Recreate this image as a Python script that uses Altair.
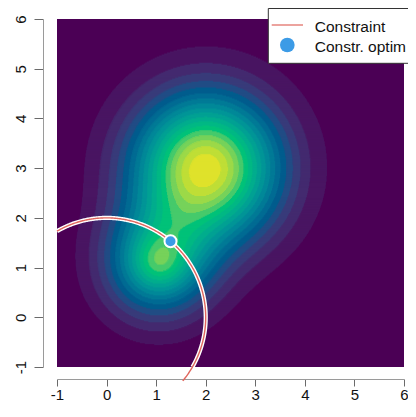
import math
import numpy as np
import pandas as pd
import altair as alt

# ---------------- data ----------------
X_DOMAIN = [-1, 6]
Y_DOMAIN = [-1, 6]
TICKS = [-1, 0, 1, 2, 3, 4, 5, 6]

# bumps of the objective surface (centre, height, spread):
# main hill, lower hill (broad part), lower hill's small cap, ridge towards the main hill
PEAK_X = [2.0, 1.03, 1.03, 1.23]
PEAK_Y = [3.0, 1.07, 1.07, 1.47]
PEAK_AMP = [0.935, 0.475, 0.14, 0.06]
PEAK_SD = [1.0, 0.76, 0.35, 0.6]
LEVEL_STEP = 0.05
N_LEVELS = 20

# constraint circle and constrained optimum
CIRCLE_CX = [0.0]
CIRCLE_CY = [0.0]
CIRCLE_R = [2.0]
ARC_START_DEG = [120.0]
ARC_END_Y_LINE = [-1.28]
ARC_END_Y_CASE = [-1.0]
OPT_X = [1.29]
OPT_Y = [1.53]

LEGEND_LABELS = ["Constraint", "Constr. optim"]


# ---------------- palette: hcl.colors(n, "viridis") ----------------
def hcl_hex(h, c, l):
    XN, YN, ZN = 95.047, 100.0, 108.883
    if l <= 0:
        return "#000000"
    hr = math.radians(h)
    u = c * math.cos(hr)
    v = c * math.sin(hr)
    Y = YN * (((l + 16) / 116) ** 3 if l > 7.999592 else l / 903.3)
    t = XN + YN + ZN
    x = XN / t
    y = YN / t
    uN = 2 * x / (6 * y - x + 1.5)
    vN = 4.5 * y / (6 * y - x + 1.5)
    U = u / (13 * l) + uN
    V = v / (13 * l) + vN
    X = 9.0 * Y * U / (4 * V)
    Z = -X / 3 - 5 * Y + 3 * Y / V
    X, Y, Z = X / YN, Y / YN, Z / YN
    r = 3.240479 * X - 1.537150 * Y - 0.498535 * Z
    g = -0.969256 * X + 1.875992 * Y + 0.041556 * Z
    b = 0.055648 * X - 0.204043 * Y + 1.057311 * Z

    def gam(q):
        q = 1.055 * q ** (1 / 2.4) - 0.055 if q > 0.00304 else 12.92 * q
        return min(max(q, 0.0), 1.0)

    return "#%02X%02X%02X" % tuple(int(round(255 * gam(q))) for q in (r, g, b))


def hcl_viridis(n):
    h1, h2, c1, c2, l1, l2, p1, p2 = 300, 75, 40, 95, 15, 90, 1.0, 1.1
    out = []
    for i in np.linspace(1, 0, n):
        h = h2 - (h2 - h1) * i
        c = c2 - (c2 - c1) * i ** p1
        l = l2 - (l2 - l1) * i ** p2
        out.append(hcl_hex(h, c, l))
    return out


PALETTE = hcl_viridis(N_LEVELS)

# ---------------- filled contour bands as horizontal runs ----------------
NX, NY = 700, 350
xe = np.linspace(X_DOMAIN[0], X_DOMAIN[1], NX + 1)
ye = np.linspace(Y_DOMAIN[0], Y_DOMAIN[1], NY + 1)
xc = (xe[:-1] + xe[1:]) / 2
yc = (ye[:-1] + ye[1:]) / 2
XX, YY = np.meshgrid(xc, yc)
F = np.zeros_like(XX)
for cx, cy, a, s in zip(PEAK_X, PEAK_Y, PEAK_AMP, PEAK_SD):
    F += a * np.exp(-((XX - cx) ** 2 + (YY - cy) ** 2) / (2 * s * s))
band = np.clip(np.floor(F / LEVEL_STEP).astype(int), 0, N_LEVELS - 1)

dx = xe[1] - xe[0]
dy = ye[1] - ye[0]
recs = []
for j in range(NY):
    row = band[j]
    cut = np.flatnonzero(np.diff(row)) + 1
    starts = np.r_[0, cut]
    ends = np.r_[cut, NX]
    for s0, e0 in zip(starts, ends):
        b = int(row[s0])
        if b == 0:
            continue
        recs.append({
            "x": round(float(xe[s0]), 4),
            "x2": round(float(min(xe[e0] + 2.5 * dx, X_DOMAIN[1])), 4),
            "y": round(float(ye[j]), 4),
            "y2": round(float(min(ye[j + 1] + 1.3 * dy, Y_DOMAIN[1])), 4),
            "band": b,
        })
bands_df = pd.DataFrame(recs)


def arc(end_y, n=300):
    t0 = math.radians(ARC_START_DEG[0])
    t1 = math.asin(end_y / CIRCLE_R[0])
    th = np.linspace(t0, t1, n)
    return pd.DataFrame({
        "x": CIRCLE_CX[0] + CIRCLE_R[0] * np.cos(th),
        "y": CIRCLE_CY[0] + CIRCLE_R[0] * np.sin(th),
        "i": np.arange(n),
    })


arc_line = arc(ARC_END_Y_LINE[0])
arc_case = arc(ARC_END_Y_CASE[0])
opt_df = pd.DataFrame({"x": OPT_X, "y": OPT_Y})

# ---------------- encodings ----------------
FONT = "Liberation Sans"
LABEL_EXPR = "'' + datum.value"
xscale = alt.Scale(domain=X_DOMAIN, nice=False, zero=False)
yscale = alt.Scale(domain=Y_DOMAIN, nice=False, zero=False)
xaxis = alt.Axis(values=TICKS, title=None, grid=False, offset=12, tickSize=7,
                 domainColor="#9a9a9a", tickColor="#6a6a6a", labelColor="#111111",
                 labelFont=FONT, labelFontSize=15, labelBaseline="alphabetic",
                 labelPadding=13, labelFlush=False, labelOverlap=False, labelExpr=LABEL_EXPR)
yaxis = alt.Axis(values=TICKS, title=None, grid=False, offset=14, tickSize=9,
                 domainColor="#9a9a9a", tickColor="#6a6a6a", labelColor="#111111",
                 labelFont=FONT, labelFontSize=15, labelAngle=-90, labelAlign="center",
                 labelBaseline="alphabetic", labelPadding=9, labelFlush=False,
                 labelOverlap=False, labelExpr=LABEL_EXPR)

heat = alt.Chart(bands_df).mark_rect(strokeWidth=0).encode(
    x=alt.X("x:Q", scale=xscale, axis=xaxis),
    x2="x2:Q",
    y=alt.Y("y:Q", scale=yscale, axis=yaxis),
    y2="y2:Q",
    color=alt.Color("band:O", scale=alt.Scale(domain=list(range(N_LEVELS)), range=PALETTE), legend=None),
)

case = alt.Chart(arc_case).mark_line(color="white", strokeWidth=4.2).encode(
    x=alt.X("x:Q", scale=xscale, axis=xaxis),
    y=alt.Y("y:Q", scale=yscale, axis=yaxis),
    order="i:Q",
)
line = alt.Chart(arc_line).mark_line(color="#E0675E", strokeWidth=1.4).encode(
    x=alt.X("x:Q", scale=xscale, axis=xaxis),
    y=alt.Y("y:Q", scale=yscale, axis=yaxis),
    order="i:Q",
)
opt = alt.Chart(opt_df).mark_point(filled=True, shape="circle", size=144, fill="#3C9BE6",
                                    stroke="white", strokeWidth=2, opacity=1).encode(
    x=alt.X("x:Q", scale=xscale, axis=xaxis),
    y=alt.Y("y:Q", scale=yscale, axis=yaxis),
)

one = pd.DataFrame({"k": [0]})
leg_box = alt.Chart(one).mark_rect(fill="white", stroke="#333333", strokeWidth=1).encode(
    x=alt.value(211.3), x2=alt.value(380), y=alt.value(-10.5), y2=alt.value(44.3))
leg_line = alt.Chart(one).mark_rule(color="#E0675E", strokeWidth=1.2).encode(
    x=alt.value(214.7), x2=alt.value(246), y=alt.value(6))
leg_pt = alt.Chart(one).mark_point(filled=True, shape="circle", size=215, fill="#3C9BE6",
                                   opacity=1).encode(x=alt.value(230.3), y=alt.value(26))
leg_t1 = alt.Chart(one).mark_text(align="left", baseline="alphabetic", font=FONT,
                                  fontSize=15.5, color="#111111").encode(
    x=alt.value(257.7), y=alt.value(13), text=alt.value(LEGEND_LABELS[0]))
leg_t2 = alt.Chart(one).mark_text(align="left", baseline="alphabetic", font=FONT,
                                  fontSize=15.5, color="#111111").encode(
    x=alt.value(257.7), y=alt.value(32.5), text=alt.value(LEGEND_LABELS[1]))

chart = alt.layer(heat, case, line, opt, leg_box, leg_line, leg_pt, leg_t1, leg_t2).properties(
    width=347, height=348,
    autosize=alt.AutoSizeParams(type="none"),
    padding={"left": 49, "top": 11, "right": 4, "bottom": 36},
).configure(
    background="white",
    view=alt.ViewConfig(fill=PALETTE[0], stroke=None),
)

chart.save("out.html", embed_options={"renderer": "svg", "actions": False})
